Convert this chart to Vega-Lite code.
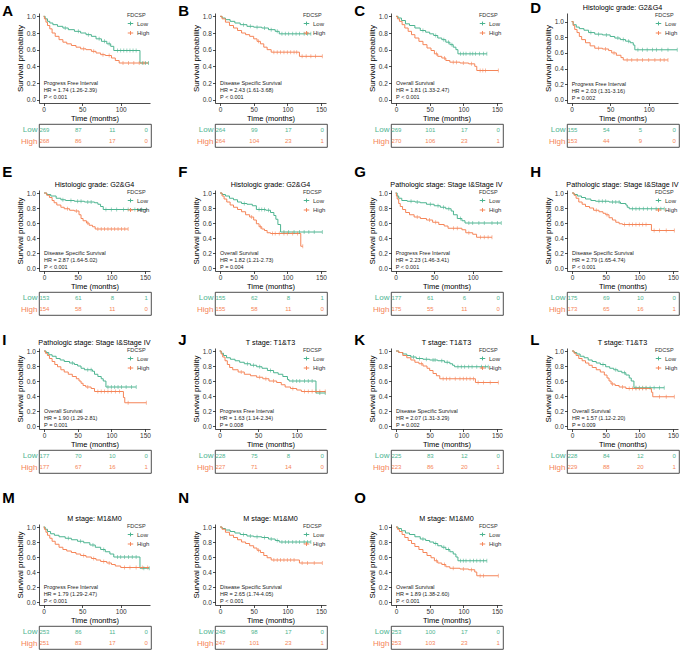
{
"$schema":"https://vega.github.io/schema/vega-lite/v6.json",
"background":"white",
"padding":{"left":2,"top":0,"right":0,"bottom":0},
"spacing":16,
"vconcat":[
{"spacing":26,"hconcat":[
{"title":{"text":"A","anchor":"start","frame":"bounds","fontSize":15,"fontWeight":"bold","dx":-14,"offset":-6},"spacing":0,"resolve":{"scale":{"color":"independent"},"legend":{"color":"independent"}},"vconcat":[
{"width":111,"height":90,"layer":[
{"data":{"name":"km"},"transform":[{"filter":"datum.p=='A'"}],"mark":"line","encoding":{"x":{"field":"t","type":"quantitative","scale":{"domain":[-6,138],"nice":false,"zero":false},"axis":{"values":[0,50,100],"tickCount":10,"title":"Time (months)","labelOverlap":false,"labelFlush":false}},"y":{"field":"s","type":"quantitative","scale":{"domain":[-0.04,1.04],"nice":false,"zero":false},"axis":{"values":[0,0.2,0.4,0.6,0.8,1],"tickCount":10,"format":".1f","title":"Survival probability","labelOverlap":false,"labelFlush":false}},"color":{"field":"g","type":"nominal","scale":{"domain":["Low","High"],"range":["#4DB490","#F58558"]},"legend":{"title":"FDCSP","symbolType":"M-1,0H1M0,-0.7V0.7"}}}},
{"data":{"name":"cen"},"transform":[{"filter":"datum.p=='A'"}],"mark":{"type":"tick","orient":"vertical","size":4,"thickness":0.8},"encoding":{"x":{"field":"t","type":"quantitative"},"y":{"field":"s","type":"quantitative"},"color":{"condition":{"test":"datum.g=='Low'","value":"#4DB490"},"value":"#F58558"}}},
{"data":{"name":"ann"},"transform":[{"filter":"datum.p=='A'"}],"mark":"text","encoding":{"x":{"datum":0},"y":{"datum":0.2},"text":{"field":"lines"}}}
]},
{"width":112,"height":23,"view":{"stroke":"#222","strokeWidth":0.8},"data":{"name":"risk"},"transform":[{"filter":"datum.p=='A'"}],"mark":{"type":"text","align":"center","fontSize":6},"encoding":{"x":{"field":"t","type":"quantitative","scale":{"domain":[-8,157],"nice":false,"zero":false},"axis":null},"y":{"field":"g","type":"nominal","sort":["Low","High"],"axis":{"title":null,"domain":false,"ticks":false,"labelFontSize":8,"labelPadding":2,"labelColor":{"condition":{"test":"datum.value=='Low'","value":"#4DB490"},"value":"#F58558"}}},"text":{"field":"n","type":"quantitative"},"color":{"condition":{"test":"datum.g=='Low'","value":"#4DB490"},"value":"#F58558"}}}
]},
{"title":{"text":"B","anchor":"start","frame":"bounds","fontSize":15,"fontWeight":"bold","dx":-14,"offset":-6},"spacing":0,"resolve":{"scale":{"color":"independent"},"legend":{"color":"independent"}},"vconcat":[
{"width":111,"height":90,"layer":[
{"data":{"name":"km"},"transform":[{"filter":"datum.p=='B'"}],"mark":"line","encoding":{"x":{"field":"t","type":"quantitative","scale":{"domain":[-7.5,157.5],"nice":false,"zero":false},"axis":{"values":[0,50,100,150],"tickCount":10,"title":"Time (months)","labelOverlap":false,"labelFlush":false}},"y":{"field":"s","type":"quantitative","scale":{"domain":[-0.04,1.04],"nice":false,"zero":false},"axis":{"values":[0,0.2,0.4,0.6,0.8,1],"tickCount":10,"format":".1f","title":"Survival probability","labelOverlap":false,"labelFlush":false}},"color":{"field":"g","type":"nominal","scale":{"domain":["Low","High"],"range":["#4DB490","#F58558"]},"legend":{"title":"FDCSP","symbolType":"M-1,0H1M0,-0.7V0.7"}}}},
{"data":{"name":"cen"},"transform":[{"filter":"datum.p=='B'"}],"mark":{"type":"tick","orient":"vertical","size":4,"thickness":0.8},"encoding":{"x":{"field":"t","type":"quantitative"},"y":{"field":"s","type":"quantitative"},"color":{"condition":{"test":"datum.g=='Low'","value":"#4DB490"},"value":"#F58558"}}},
{"data":{"name":"ann"},"transform":[{"filter":"datum.p=='B'"}],"mark":"text","encoding":{"x":{"datum":0},"y":{"datum":0.2},"text":{"field":"lines"}}}
]},
{"width":112,"height":23,"view":{"stroke":"#222","strokeWidth":0.8},"data":{"name":"risk"},"transform":[{"filter":"datum.p=='B'"}],"mark":{"type":"text","align":"center","fontSize":6},"encoding":{"x":{"field":"t","type":"quantitative","scale":{"domain":[-8,157],"nice":false,"zero":false},"axis":null},"y":{"field":"g","type":"nominal","sort":["Low","High"],"axis":{"title":null,"domain":false,"ticks":false,"labelFontSize":8,"labelPadding":2,"labelColor":{"condition":{"test":"datum.value=='Low'","value":"#4DB490"},"value":"#F58558"}}},"text":{"field":"n","type":"quantitative"},"color":{"condition":{"test":"datum.g=='Low'","value":"#4DB490"},"value":"#F58558"}}}
]},
{"title":{"text":"C","anchor":"start","frame":"bounds","fontSize":15,"fontWeight":"bold","dx":-14,"offset":-6},"spacing":0,"resolve":{"scale":{"color":"independent"},"legend":{"color":"independent"}},"vconcat":[
{"width":111,"height":90,"layer":[
{"data":{"name":"km"},"transform":[{"filter":"datum.p=='C'"}],"mark":"line","encoding":{"x":{"field":"t","type":"quantitative","scale":{"domain":[-7.5,157.5],"nice":false,"zero":false},"axis":{"values":[0,50,100,150],"tickCount":10,"title":"Time (months)","labelOverlap":false,"labelFlush":false}},"y":{"field":"s","type":"quantitative","scale":{"domain":[-0.04,1.04],"nice":false,"zero":false},"axis":{"values":[0,0.2,0.4,0.6,0.8,1],"tickCount":10,"format":".1f","title":"Survival probability","labelOverlap":false,"labelFlush":false}},"color":{"field":"g","type":"nominal","scale":{"domain":["Low","High"],"range":["#4DB490","#F58558"]},"legend":{"title":"FDCSP","symbolType":"M-1,0H1M0,-0.7V0.7"}}}},
{"data":{"name":"cen"},"transform":[{"filter":"datum.p=='C'"}],"mark":{"type":"tick","orient":"vertical","size":4,"thickness":0.8},"encoding":{"x":{"field":"t","type":"quantitative"},"y":{"field":"s","type":"quantitative"},"color":{"condition":{"test":"datum.g=='Low'","value":"#4DB490"},"value":"#F58558"}}},
{"data":{"name":"ann"},"transform":[{"filter":"datum.p=='C'"}],"mark":"text","encoding":{"x":{"datum":0},"y":{"datum":0.2},"text":{"field":"lines"}}}
]},
{"width":112,"height":23,"view":{"stroke":"#222","strokeWidth":0.8},"data":{"name":"risk"},"transform":[{"filter":"datum.p=='C'"}],"mark":{"type":"text","align":"center","fontSize":6},"encoding":{"x":{"field":"t","type":"quantitative","scale":{"domain":[-8,157],"nice":false,"zero":false},"axis":null},"y":{"field":"g","type":"nominal","sort":["Low","High"],"axis":{"title":null,"domain":false,"ticks":false,"labelFontSize":8,"labelPadding":2,"labelColor":{"condition":{"test":"datum.value=='Low'","value":"#4DB490"},"value":"#F58558"}}},"text":{"field":"n","type":"quantitative"},"color":{"condition":{"test":"datum.g=='Low'","value":"#4DB490"},"value":"#F58558"}}}
]},
{"title":{"text":"D","anchor":"start","frame":"bounds","fontSize":15,"fontWeight":"bold","dx":-14,"offset":-12},"spacing":0,"resolve":{"scale":{"color":"independent"},"legend":{"color":"independent"}},"vconcat":[
{"width":111,"height":90,"title":"Histologic grade: G2&G4","layer":[
{"data":{"name":"km"},"transform":[{"filter":"datum.p=='D'"}],"mark":"line","encoding":{"x":{"field":"t","type":"quantitative","scale":{"domain":[-6,138],"nice":false,"zero":false},"axis":{"values":[0,50,100],"tickCount":10,"title":"Time (months)","labelOverlap":false,"labelFlush":false}},"y":{"field":"s","type":"quantitative","scale":{"domain":[-0.04,1.11],"nice":false,"zero":false},"axis":{"values":[0,0.2,0.4,0.6,0.8,1],"tickCount":10,"format":".1f","title":"Survival probability","labelOverlap":false,"labelFlush":false}},"color":{"field":"g","type":"nominal","scale":{"domain":["Low","High"],"range":["#4DB490","#F58558"]},"legend":{"title":"FDCSP","symbolType":"M-1,0H1M0,-0.7V0.7"}}}},
{"data":{"name":"cen"},"transform":[{"filter":"datum.p=='D'"}],"mark":{"type":"tick","orient":"vertical","size":4,"thickness":0.8},"encoding":{"x":{"field":"t","type":"quantitative"},"y":{"field":"s","type":"quantitative"},"color":{"condition":{"test":"datum.g=='Low'","value":"#4DB490"},"value":"#F58558"}}},
{"data":{"name":"ann"},"transform":[{"filter":"datum.p=='D'"}],"mark":"text","encoding":{"x":{"datum":0},"y":{"datum":0.2},"text":{"field":"lines"}}}
]},
{"width":112,"height":23,"view":{"stroke":"#222","strokeWidth":0.8},"data":{"name":"risk"},"transform":[{"filter":"datum.p=='D'"}],"mark":{"type":"text","align":"center","fontSize":6},"encoding":{"x":{"field":"t","type":"quantitative","scale":{"domain":[-8,157],"nice":false,"zero":false},"axis":null},"y":{"field":"g","type":"nominal","sort":["Low","High"],"axis":{"title":null,"domain":false,"ticks":false,"labelFontSize":8,"labelPadding":2,"labelColor":{"condition":{"test":"datum.value=='Low'","value":"#4DB490"},"value":"#F58558"}}},"text":{"field":"n","type":"quantitative"},"color":{"condition":{"test":"datum.g=='Low'","value":"#4DB490"},"value":"#F58558"}}}
]}
]},
{"spacing":26,"hconcat":[
{"title":{"text":"E","anchor":"start","frame":"bounds","fontSize":15,"fontWeight":"bold","dx":-14,"offset":1},"spacing":0,"resolve":{"scale":{"color":"independent"},"legend":{"color":"independent"}},"vconcat":[
{"width":111,"height":81,"title":"Histologic grade: G2&G4","layer":[
{"data":{"name":"km"},"transform":[{"filter":"datum.p=='E'"}],"mark":"line","encoding":{"x":{"field":"t","type":"quantitative","scale":{"domain":[-7.5,157.5],"nice":false,"zero":false},"axis":{"values":[0,50,100,150],"tickCount":10,"title":"Time (months)","labelOverlap":false,"labelFlush":false}},"y":{"field":"s","type":"quantitative","scale":{"domain":[-0.04,1.04],"nice":false,"zero":false},"axis":{"values":[0,0.2,0.4,0.6,0.8,1],"tickCount":10,"format":".1f","title":"Survival probability","labelOverlap":false,"labelFlush":false}},"color":{"field":"g","type":"nominal","scale":{"domain":["Low","High"],"range":["#4DB490","#F58558"]},"legend":{"title":"FDCSP","symbolType":"M-1,0H1M0,-0.7V0.7"}}}},
{"data":{"name":"cen"},"transform":[{"filter":"datum.p=='E'"}],"mark":{"type":"tick","orient":"vertical","size":4,"thickness":0.8},"encoding":{"x":{"field":"t","type":"quantitative"},"y":{"field":"s","type":"quantitative"},"color":{"condition":{"test":"datum.g=='Low'","value":"#4DB490"},"value":"#F58558"}}},
{"data":{"name":"ann"},"transform":[{"filter":"datum.p=='E'"}],"mark":"text","encoding":{"x":{"datum":0},"y":{"datum":0.2},"text":{"field":"lines"}}}
]},
{"width":112,"height":23,"view":{"stroke":"#222","strokeWidth":0.8},"data":{"name":"risk"},"transform":[{"filter":"datum.p=='E'"}],"mark":{"type":"text","align":"center","fontSize":6},"encoding":{"x":{"field":"t","type":"quantitative","scale":{"domain":[-8,157],"nice":false,"zero":false},"axis":null},"y":{"field":"g","type":"nominal","sort":["Low","High"],"axis":{"title":null,"domain":false,"ticks":false,"labelFontSize":8,"labelPadding":2,"labelColor":{"condition":{"test":"datum.value=='Low'","value":"#4DB490"},"value":"#F58558"}}},"text":{"field":"n","type":"quantitative"},"color":{"condition":{"test":"datum.g=='Low'","value":"#4DB490"},"value":"#F58558"}}}
]},
{"title":{"text":"F","anchor":"start","frame":"bounds","fontSize":15,"fontWeight":"bold","dx":-14,"offset":1},"spacing":0,"resolve":{"scale":{"color":"independent"},"legend":{"color":"independent"}},"vconcat":[
{"width":111,"height":81,"title":"Histologic grade: G2&G4","layer":[
{"data":{"name":"km"},"transform":[{"filter":"datum.p=='F'"}],"mark":"line","encoding":{"x":{"field":"t","type":"quantitative","scale":{"domain":[-7.5,157.5],"nice":false,"zero":false},"axis":{"values":[0,50,100,150],"tickCount":10,"title":"Time (months)","labelOverlap":false,"labelFlush":false}},"y":{"field":"s","type":"quantitative","scale":{"domain":[-0.04,1.04],"nice":false,"zero":false},"axis":{"values":[0,0.2,0.4,0.6,0.8,1],"tickCount":10,"format":".1f","title":"Survival probability","labelOverlap":false,"labelFlush":false}},"color":{"field":"g","type":"nominal","scale":{"domain":["Low","High"],"range":["#4DB490","#F58558"]},"legend":{"title":"FDCSP","symbolType":"M-1,0H1M0,-0.7V0.7"}}}},
{"data":{"name":"cen"},"transform":[{"filter":"datum.p=='F'"}],"mark":{"type":"tick","orient":"vertical","size":4,"thickness":0.8},"encoding":{"x":{"field":"t","type":"quantitative"},"y":{"field":"s","type":"quantitative"},"color":{"condition":{"test":"datum.g=='Low'","value":"#4DB490"},"value":"#F58558"}}},
{"data":{"name":"ann"},"transform":[{"filter":"datum.p=='F'"}],"mark":"text","encoding":{"x":{"datum":0},"y":{"datum":0.2},"text":{"field":"lines"}}}
]},
{"width":112,"height":23,"view":{"stroke":"#222","strokeWidth":0.8},"data":{"name":"risk"},"transform":[{"filter":"datum.p=='F'"}],"mark":{"type":"text","align":"center","fontSize":6},"encoding":{"x":{"field":"t","type":"quantitative","scale":{"domain":[-8,157],"nice":false,"zero":false},"axis":null},"y":{"field":"g","type":"nominal","sort":["Low","High"],"axis":{"title":null,"domain":false,"ticks":false,"labelFontSize":8,"labelPadding":2,"labelColor":{"condition":{"test":"datum.value=='Low'","value":"#4DB490"},"value":"#F58558"}}},"text":{"field":"n","type":"quantitative"},"color":{"condition":{"test":"datum.g=='Low'","value":"#4DB490"},"value":"#F58558"}}}
]},
{"title":{"text":"G","anchor":"start","frame":"bounds","fontSize":15,"fontWeight":"bold","dx":-14,"offset":1},"spacing":0,"resolve":{"scale":{"color":"independent"},"legend":{"color":"independent"}},"vconcat":[
{"width":111,"height":81,"title":"Pathologic stage: Stage I&Stage IV","layer":[
{"data":{"name":"km"},"transform":[{"filter":"datum.p=='G'"}],"mark":"line","encoding":{"x":{"field":"t","type":"quantitative","scale":{"domain":[-6,138],"nice":false,"zero":false},"axis":{"values":[0,50,100],"tickCount":10,"title":"Time (months)","labelOverlap":false,"labelFlush":false}},"y":{"field":"s","type":"quantitative","scale":{"domain":[-0.04,1.04],"nice":false,"zero":false},"axis":{"values":[0,0.2,0.4,0.6,0.8,1],"tickCount":10,"format":".1f","title":"Survival probability","labelOverlap":false,"labelFlush":false}},"color":{"field":"g","type":"nominal","scale":{"domain":["Low","High"],"range":["#4DB490","#F58558"]},"legend":{"title":"FDCSP","symbolType":"M-1,0H1M0,-0.7V0.7"}}}},
{"data":{"name":"cen"},"transform":[{"filter":"datum.p=='G'"}],"mark":{"type":"tick","orient":"vertical","size":4,"thickness":0.8},"encoding":{"x":{"field":"t","type":"quantitative"},"y":{"field":"s","type":"quantitative"},"color":{"condition":{"test":"datum.g=='Low'","value":"#4DB490"},"value":"#F58558"}}},
{"data":{"name":"ann"},"transform":[{"filter":"datum.p=='G'"}],"mark":"text","encoding":{"x":{"datum":0},"y":{"datum":0.2},"text":{"field":"lines"}}}
]},
{"width":112,"height":23,"view":{"stroke":"#222","strokeWidth":0.8},"data":{"name":"risk"},"transform":[{"filter":"datum.p=='G'"}],"mark":{"type":"text","align":"center","fontSize":6},"encoding":{"x":{"field":"t","type":"quantitative","scale":{"domain":[-8,157],"nice":false,"zero":false},"axis":null},"y":{"field":"g","type":"nominal","sort":["Low","High"],"axis":{"title":null,"domain":false,"ticks":false,"labelFontSize":8,"labelPadding":2,"labelColor":{"condition":{"test":"datum.value=='Low'","value":"#4DB490"},"value":"#F58558"}}},"text":{"field":"n","type":"quantitative"},"color":{"condition":{"test":"datum.g=='Low'","value":"#4DB490"},"value":"#F58558"}}}
]},
{"title":{"text":"H","anchor":"start","frame":"bounds","fontSize":15,"fontWeight":"bold","dx":-14,"offset":1},"spacing":0,"resolve":{"scale":{"color":"independent"},"legend":{"color":"independent"}},"vconcat":[
{"width":111,"height":81,"title":"Pathologic stage: Stage I&Stage IV","layer":[
{"data":{"name":"km"},"transform":[{"filter":"datum.p=='H'"}],"mark":"line","encoding":{"x":{"field":"t","type":"quantitative","scale":{"domain":[-7.5,157.5],"nice":false,"zero":false},"axis":{"values":[0,50,100,150],"tickCount":10,"title":"Time (months)","labelOverlap":false,"labelFlush":false}},"y":{"field":"s","type":"quantitative","scale":{"domain":[-0.04,1.04],"nice":false,"zero":false},"axis":{"values":[0,0.2,0.4,0.6,0.8,1],"tickCount":10,"format":".1f","title":"Survival probability","labelOverlap":false,"labelFlush":false}},"color":{"field":"g","type":"nominal","scale":{"domain":["Low","High"],"range":["#4DB490","#F58558"]},"legend":{"title":"FDCSP","symbolType":"M-1,0H1M0,-0.7V0.7"}}}},
{"data":{"name":"cen"},"transform":[{"filter":"datum.p=='H'"}],"mark":{"type":"tick","orient":"vertical","size":4,"thickness":0.8},"encoding":{"x":{"field":"t","type":"quantitative"},"y":{"field":"s","type":"quantitative"},"color":{"condition":{"test":"datum.g=='Low'","value":"#4DB490"},"value":"#F58558"}}},
{"data":{"name":"ann"},"transform":[{"filter":"datum.p=='H'"}],"mark":"text","encoding":{"x":{"datum":0},"y":{"datum":0.2},"text":{"field":"lines"}}}
]},
{"width":112,"height":23,"view":{"stroke":"#222","strokeWidth":0.8},"data":{"name":"risk"},"transform":[{"filter":"datum.p=='H'"}],"mark":{"type":"text","align":"center","fontSize":6},"encoding":{"x":{"field":"t","type":"quantitative","scale":{"domain":[-8,157],"nice":false,"zero":false},"axis":null},"y":{"field":"g","type":"nominal","sort":["Low","High"],"axis":{"title":null,"domain":false,"ticks":false,"labelFontSize":8,"labelPadding":2,"labelColor":{"condition":{"test":"datum.value=='Low'","value":"#4DB490"},"value":"#F58558"}}},"text":{"field":"n","type":"quantitative"},"color":{"condition":{"test":"datum.g=='Low'","value":"#4DB490"},"value":"#F58558"}}}
]}
]},
{"spacing":26,"hconcat":[
{"title":{"text":"I","anchor":"start","frame":"bounds","fontSize":15,"fontWeight":"bold","dx":-14,"offset":-9},"spacing":0,"resolve":{"scale":{"color":"independent"},"legend":{"color":"independent"}},"vconcat":[
{"width":111,"height":81,"title":"Pathologic stage: Stage I&Stage IV","layer":[
{"data":{"name":"km"},"transform":[{"filter":"datum.p=='I'"}],"mark":"line","encoding":{"x":{"field":"t","type":"quantitative","scale":{"domain":[-7.5,157.5],"nice":false,"zero":false},"axis":{"values":[0,50,100,150],"tickCount":10,"title":"Time (months)","labelOverlap":false,"labelFlush":false}},"y":{"field":"s","type":"quantitative","scale":{"domain":[-0.04,1.04],"nice":false,"zero":false},"axis":{"values":[0,0.2,0.4,0.6,0.8,1],"tickCount":10,"format":".1f","title":"Survival probability","labelOverlap":false,"labelFlush":false}},"color":{"field":"g","type":"nominal","scale":{"domain":["Low","High"],"range":["#4DB490","#F58558"]},"legend":{"title":"FDCSP","symbolType":"M-1,0H1M0,-0.7V0.7"}}}},
{"data":{"name":"cen"},"transform":[{"filter":"datum.p=='I'"}],"mark":{"type":"tick","orient":"vertical","size":4,"thickness":0.8},"encoding":{"x":{"field":"t","type":"quantitative"},"y":{"field":"s","type":"quantitative"},"color":{"condition":{"test":"datum.g=='Low'","value":"#4DB490"},"value":"#F58558"}}},
{"data":{"name":"ann"},"transform":[{"filter":"datum.p=='I'"}],"mark":"text","encoding":{"x":{"datum":0},"y":{"datum":0.2},"text":{"field":"lines"}}}
]},
{"width":112,"height":23,"view":{"stroke":"#222","strokeWidth":0.8},"data":{"name":"risk"},"transform":[{"filter":"datum.p=='I'"}],"mark":{"type":"text","align":"center","fontSize":6},"encoding":{"x":{"field":"t","type":"quantitative","scale":{"domain":[-8,157],"nice":false,"zero":false},"axis":null},"y":{"field":"g","type":"nominal","sort":["Low","High"],"axis":{"title":null,"domain":false,"ticks":false,"labelFontSize":8,"labelPadding":2,"labelColor":{"condition":{"test":"datum.value=='Low'","value":"#4DB490"},"value":"#F58558"}}},"text":{"field":"n","type":"quantitative"},"color":{"condition":{"test":"datum.g=='Low'","value":"#4DB490"},"value":"#F58558"}}}
]},
{"title":{"text":"J","anchor":"start","frame":"bounds","fontSize":15,"fontWeight":"bold","dx":-14,"offset":-9},"spacing":0,"resolve":{"scale":{"color":"independent"},"legend":{"color":"independent"}},"vconcat":[
{"width":111,"height":81,"title":"T stage: T1&T3","layer":[
{"data":{"name":"km"},"transform":[{"filter":"datum.p=='J'"}],"mark":"line","encoding":{"x":{"field":"t","type":"quantitative","scale":{"domain":[-6,138],"nice":false,"zero":false},"axis":{"values":[0,50,100],"tickCount":10,"title":"Time (months)","labelOverlap":false,"labelFlush":false}},"y":{"field":"s","type":"quantitative","scale":{"domain":[-0.04,1.04],"nice":false,"zero":false},"axis":{"values":[0,0.2,0.4,0.6,0.8,1],"tickCount":10,"format":".1f","title":"Survival probability","labelOverlap":false,"labelFlush":false}},"color":{"field":"g","type":"nominal","scale":{"domain":["Low","High"],"range":["#4DB490","#F58558"]},"legend":{"title":"FDCSP","symbolType":"M-1,0H1M0,-0.7V0.7"}}}},
{"data":{"name":"cen"},"transform":[{"filter":"datum.p=='J'"}],"mark":{"type":"tick","orient":"vertical","size":4,"thickness":0.8},"encoding":{"x":{"field":"t","type":"quantitative"},"y":{"field":"s","type":"quantitative"},"color":{"condition":{"test":"datum.g=='Low'","value":"#4DB490"},"value":"#F58558"}}},
{"data":{"name":"ann"},"transform":[{"filter":"datum.p=='J'"}],"mark":"text","encoding":{"x":{"datum":0},"y":{"datum":0.2},"text":{"field":"lines"}}}
]},
{"width":112,"height":23,"view":{"stroke":"#222","strokeWidth":0.8},"data":{"name":"risk"},"transform":[{"filter":"datum.p=='J'"}],"mark":{"type":"text","align":"center","fontSize":6},"encoding":{"x":{"field":"t","type":"quantitative","scale":{"domain":[-8,157],"nice":false,"zero":false},"axis":null},"y":{"field":"g","type":"nominal","sort":["Low","High"],"axis":{"title":null,"domain":false,"ticks":false,"labelFontSize":8,"labelPadding":2,"labelColor":{"condition":{"test":"datum.value=='Low'","value":"#4DB490"},"value":"#F58558"}}},"text":{"field":"n","type":"quantitative"},"color":{"condition":{"test":"datum.g=='Low'","value":"#4DB490"},"value":"#F58558"}}}
]},
{"title":{"text":"K","anchor":"start","frame":"bounds","fontSize":15,"fontWeight":"bold","dx":-14,"offset":-9},"spacing":0,"resolve":{"scale":{"color":"independent"},"legend":{"color":"independent"}},"vconcat":[
{"width":111,"height":81,"title":"T stage: T1&T3","layer":[
{"data":{"name":"km"},"transform":[{"filter":"datum.p=='K'"}],"mark":"line","encoding":{"x":{"field":"t","type":"quantitative","scale":{"domain":[-7.5,157.5],"nice":false,"zero":false},"axis":{"values":[0,50,100,150],"tickCount":10,"title":"Time (months)","labelOverlap":false,"labelFlush":false}},"y":{"field":"s","type":"quantitative","scale":{"domain":[-0.04,1.04],"nice":false,"zero":false},"axis":{"values":[0,0.2,0.4,0.6,0.8,1],"tickCount":10,"format":".1f","title":"Survival probability","labelOverlap":false,"labelFlush":false}},"color":{"field":"g","type":"nominal","scale":{"domain":["Low","High"],"range":["#4DB490","#F58558"]},"legend":{"title":"FDCSP","symbolType":"M-1,0H1M0,-0.7V0.7"}}}},
{"data":{"name":"cen"},"transform":[{"filter":"datum.p=='K'"}],"mark":{"type":"tick","orient":"vertical","size":4,"thickness":0.8},"encoding":{"x":{"field":"t","type":"quantitative"},"y":{"field":"s","type":"quantitative"},"color":{"condition":{"test":"datum.g=='Low'","value":"#4DB490"},"value":"#F58558"}}},
{"data":{"name":"ann"},"transform":[{"filter":"datum.p=='K'"}],"mark":"text","encoding":{"x":{"datum":0},"y":{"datum":0.2},"text":{"field":"lines"}}}
]},
{"width":112,"height":23,"view":{"stroke":"#222","strokeWidth":0.8},"data":{"name":"risk"},"transform":[{"filter":"datum.p=='K'"}],"mark":{"type":"text","align":"center","fontSize":6},"encoding":{"x":{"field":"t","type":"quantitative","scale":{"domain":[-8,157],"nice":false,"zero":false},"axis":null},"y":{"field":"g","type":"nominal","sort":["Low","High"],"axis":{"title":null,"domain":false,"ticks":false,"labelFontSize":8,"labelPadding":2,"labelColor":{"condition":{"test":"datum.value=='Low'","value":"#4DB490"},"value":"#F58558"}}},"text":{"field":"n","type":"quantitative"},"color":{"condition":{"test":"datum.g=='Low'","value":"#4DB490"},"value":"#F58558"}}}
]},
{"title":{"text":"L","anchor":"start","frame":"bounds","fontSize":15,"fontWeight":"bold","dx":-14,"offset":-9},"spacing":0,"resolve":{"scale":{"color":"independent"},"legend":{"color":"independent"}},"vconcat":[
{"width":111,"height":81,"title":"T stage: T1&T3","layer":[
{"data":{"name":"km"},"transform":[{"filter":"datum.p=='L'"}],"mark":"line","encoding":{"x":{"field":"t","type":"quantitative","scale":{"domain":[-7.5,157.5],"nice":false,"zero":false},"axis":{"values":[0,50,100,150],"tickCount":10,"title":"Time (months)","labelOverlap":false,"labelFlush":false}},"y":{"field":"s","type":"quantitative","scale":{"domain":[-0.04,1.04],"nice":false,"zero":false},"axis":{"values":[0,0.2,0.4,0.6,0.8,1],"tickCount":10,"format":".1f","title":"Survival probability","labelOverlap":false,"labelFlush":false}},"color":{"field":"g","type":"nominal","scale":{"domain":["Low","High"],"range":["#4DB490","#F58558"]},"legend":{"title":"FDCSP","symbolType":"M-1,0H1M0,-0.7V0.7"}}}},
{"data":{"name":"cen"},"transform":[{"filter":"datum.p=='L'"}],"mark":{"type":"tick","orient":"vertical","size":4,"thickness":0.8},"encoding":{"x":{"field":"t","type":"quantitative"},"y":{"field":"s","type":"quantitative"},"color":{"condition":{"test":"datum.g=='Low'","value":"#4DB490"},"value":"#F58558"}}},
{"data":{"name":"ann"},"transform":[{"filter":"datum.p=='L'"}],"mark":"text","encoding":{"x":{"datum":0},"y":{"datum":0.2},"text":{"field":"lines"}}}
]},
{"width":112,"height":23,"view":{"stroke":"#222","strokeWidth":0.8},"data":{"name":"risk"},"transform":[{"filter":"datum.p=='L'"}],"mark":{"type":"text","align":"center","fontSize":6},"encoding":{"x":{"field":"t","type":"quantitative","scale":{"domain":[-8,157],"nice":false,"zero":false},"axis":null},"y":{"field":"g","type":"nominal","sort":["Low","High"],"axis":{"title":null,"domain":false,"ticks":false,"labelFontSize":8,"labelPadding":2,"labelColor":{"condition":{"test":"datum.value=='Low'","value":"#4DB490"},"value":"#F58558"}}},"text":{"field":"n","type":"quantitative"},"color":{"condition":{"test":"datum.g=='Low'","value":"#4DB490"},"value":"#F58558"}}}
]}
]},
{"spacing":26,"hconcat":[
{"title":{"text":"M","anchor":"start","frame":"bounds","fontSize":15,"fontWeight":"bold","dx":-14,"offset":9},"spacing":0,"resolve":{"scale":{"color":"independent"},"legend":{"color":"independent"}},"vconcat":[
{"width":111,"height":81,"title":"M stage: M1&M0","layer":[
{"data":{"name":"km"},"transform":[{"filter":"datum.p=='M'"}],"mark":"line","encoding":{"x":{"field":"t","type":"quantitative","scale":{"domain":[-6,138],"nice":false,"zero":false},"axis":{"values":[0,50,100],"tickCount":10,"title":"Time (months)","labelOverlap":false,"labelFlush":false}},"y":{"field":"s","type":"quantitative","scale":{"domain":[-0.04,1.04],"nice":false,"zero":false},"axis":{"values":[0,0.2,0.4,0.6,0.8,1],"tickCount":10,"format":".1f","title":"Survival probability","labelOverlap":false,"labelFlush":false}},"color":{"field":"g","type":"nominal","scale":{"domain":["Low","High"],"range":["#4DB490","#F58558"]},"legend":{"title":"FDCSP","symbolType":"M-1,0H1M0,-0.7V0.7"}}}},
{"data":{"name":"cen"},"transform":[{"filter":"datum.p=='M'"}],"mark":{"type":"tick","orient":"vertical","size":4,"thickness":0.8},"encoding":{"x":{"field":"t","type":"quantitative"},"y":{"field":"s","type":"quantitative"},"color":{"condition":{"test":"datum.g=='Low'","value":"#4DB490"},"value":"#F58558"}}},
{"data":{"name":"ann"},"transform":[{"filter":"datum.p=='M'"}],"mark":"text","encoding":{"x":{"datum":0},"y":{"datum":0.2},"text":{"field":"lines"}}}
]},
{"width":112,"height":23,"view":{"stroke":"#222","strokeWidth":0.8},"data":{"name":"risk"},"transform":[{"filter":"datum.p=='M'"}],"mark":{"type":"text","align":"center","fontSize":6},"encoding":{"x":{"field":"t","type":"quantitative","scale":{"domain":[-8,157],"nice":false,"zero":false},"axis":null},"y":{"field":"g","type":"nominal","sort":["Low","High"],"axis":{"title":null,"domain":false,"ticks":false,"labelFontSize":8,"labelPadding":2,"labelColor":{"condition":{"test":"datum.value=='Low'","value":"#4DB490"},"value":"#F58558"}}},"text":{"field":"n","type":"quantitative"},"color":{"condition":{"test":"datum.g=='Low'","value":"#4DB490"},"value":"#F58558"}}}
]},
{"title":{"text":"N","anchor":"start","frame":"bounds","fontSize":15,"fontWeight":"bold","dx":-14,"offset":9},"spacing":0,"resolve":{"scale":{"color":"independent"},"legend":{"color":"independent"}},"vconcat":[
{"width":111,"height":81,"title":"M stage: M1&M0","layer":[
{"data":{"name":"km"},"transform":[{"filter":"datum.p=='N'"}],"mark":"line","encoding":{"x":{"field":"t","type":"quantitative","scale":{"domain":[-7.5,157.5],"nice":false,"zero":false},"axis":{"values":[0,50,100,150],"tickCount":10,"title":"Time (months)","labelOverlap":false,"labelFlush":false}},"y":{"field":"s","type":"quantitative","scale":{"domain":[-0.04,1.04],"nice":false,"zero":false},"axis":{"values":[0,0.2,0.4,0.6,0.8,1],"tickCount":10,"format":".1f","title":"Survival probability","labelOverlap":false,"labelFlush":false}},"color":{"field":"g","type":"nominal","scale":{"domain":["Low","High"],"range":["#4DB490","#F58558"]},"legend":{"title":"FDCSP","symbolType":"M-1,0H1M0,-0.7V0.7"}}}},
{"data":{"name":"cen"},"transform":[{"filter":"datum.p=='N'"}],"mark":{"type":"tick","orient":"vertical","size":4,"thickness":0.8},"encoding":{"x":{"field":"t","type":"quantitative"},"y":{"field":"s","type":"quantitative"},"color":{"condition":{"test":"datum.g=='Low'","value":"#4DB490"},"value":"#F58558"}}},
{"data":{"name":"ann"},"transform":[{"filter":"datum.p=='N'"}],"mark":"text","encoding":{"x":{"datum":0},"y":{"datum":0.2},"text":{"field":"lines"}}}
]},
{"width":112,"height":23,"view":{"stroke":"#222","strokeWidth":0.8},"data":{"name":"risk"},"transform":[{"filter":"datum.p=='N'"}],"mark":{"type":"text","align":"center","fontSize":6},"encoding":{"x":{"field":"t","type":"quantitative","scale":{"domain":[-8,157],"nice":false,"zero":false},"axis":null},"y":{"field":"g","type":"nominal","sort":["Low","High"],"axis":{"title":null,"domain":false,"ticks":false,"labelFontSize":8,"labelPadding":2,"labelColor":{"condition":{"test":"datum.value=='Low'","value":"#4DB490"},"value":"#F58558"}}},"text":{"field":"n","type":"quantitative"},"color":{"condition":{"test":"datum.g=='Low'","value":"#4DB490"},"value":"#F58558"}}}
]},
{"title":{"text":"O","anchor":"start","frame":"bounds","fontSize":15,"fontWeight":"bold","dx":-14,"offset":9},"spacing":0,"resolve":{"scale":{"color":"independent"},"legend":{"color":"independent"}},"vconcat":[
{"width":111,"height":81,"title":"M stage: M1&M0","layer":[
{"data":{"name":"km"},"transform":[{"filter":"datum.p=='O'"}],"mark":"line","encoding":{"x":{"field":"t","type":"quantitative","scale":{"domain":[-7.5,157.5],"nice":false,"zero":false},"axis":{"values":[0,50,100,150],"tickCount":10,"title":"Time (months)","labelOverlap":false,"labelFlush":false}},"y":{"field":"s","type":"quantitative","scale":{"domain":[-0.04,1.04],"nice":false,"zero":false},"axis":{"values":[0,0.2,0.4,0.6,0.8,1],"tickCount":10,"format":".1f","title":"Survival probability","labelOverlap":false,"labelFlush":false}},"color":{"field":"g","type":"nominal","scale":{"domain":["Low","High"],"range":["#4DB490","#F58558"]},"legend":{"title":"FDCSP","symbolType":"M-1,0H1M0,-0.7V0.7"}}}},
{"data":{"name":"cen"},"transform":[{"filter":"datum.p=='O'"}],"mark":{"type":"tick","orient":"vertical","size":4,"thickness":0.8},"encoding":{"x":{"field":"t","type":"quantitative"},"y":{"field":"s","type":"quantitative"},"color":{"condition":{"test":"datum.g=='Low'","value":"#4DB490"},"value":"#F58558"}}},
{"data":{"name":"ann"},"transform":[{"filter":"datum.p=='O'"}],"mark":"text","encoding":{"x":{"datum":0},"y":{"datum":0.2},"text":{"field":"lines"}}}
]},
{"width":112,"height":23,"view":{"stroke":"#222","strokeWidth":0.8},"data":{"name":"risk"},"transform":[{"filter":"datum.p=='O'"}],"mark":{"type":"text","align":"center","fontSize":6},"encoding":{"x":{"field":"t","type":"quantitative","scale":{"domain":[-8,157],"nice":false,"zero":false},"axis":null},"y":{"field":"g","type":"nominal","sort":["Low","High"],"axis":{"title":null,"domain":false,"ticks":false,"labelFontSize":8,"labelPadding":2,"labelColor":{"condition":{"test":"datum.value=='Low'","value":"#4DB490"},"value":"#F58558"}}},"text":{"field":"n","type":"quantitative"},"color":{"condition":{"test":"datum.g=='Low'","value":"#4DB490"},"value":"#F58558"}}}
]}
]}
],
"datasets":{
"ann":[
{"p":"A","lines":["Progress Free Interval","HR = 1.74 (1.26-2.39)","P < 0.001"]},
{"p":"B","lines":["Disease Specific Survival","HR = 2.43 (1.61-3.68)","P < 0.001"]},
{"p":"C","lines":["Overall Survival","HR = 1.81 (1.33-2.47)","P < 0.001"]},
{"p":"D","lines":["Progress Free Interval","HR = 2.03 (1.31-3.16)","P = 0.002"]},
{"p":"E","lines":["Disease Specific Survival","HR = 2.87 (1.64-5.02)","P < 0.001"]},
{"p":"F","lines":["Overall Survival","HR = 1.82 (1.21-2.73)","P = 0.004"]},
{"p":"G","lines":["Progress Free Interval","HR = 2.23 (1.46-3.41)","P < 0.001"]},
{"p":"H","lines":["Disease Specific Survival","HR = 2.79 (1.65-4.74)","P < 0.001"]},
{"p":"I","lines":["Overall Survival","HR = 1.90 (1.29-2.81)","P = 0.001"]},
{"p":"J","lines":["Progress Free Interval","HR = 1.63 (1.14-2.34)","P = 0.008"]},
{"p":"K","lines":["Disease Specific Survival","HR = 2.07 (1.31-3.29)","P = 0.002"]},
{"p":"L","lines":["Overall Survival","HR = 1.57 (1.12-2.20)","P = 0.009"]},
{"p":"M","lines":["Progress Free Interval","HR = 1.79 (1.29-2.47)","P < 0.001"]},
{"p":"N","lines":["Disease Specific Survival","HR = 2.65 (1.74-4.05)","P < 0.001"]},
{"p":"O","lines":["Overall Survival","HR = 1.89 (1.38-2.60)","P < 0.001"]}
],
"risk":[
{"p":"A","g":"Low","t":0,"n":269},{"p":"A","g":"Low","t":50,"n":87},{"p":"A","g":"Low","t":100,"n":11},{"p":"A","g":"Low","t":150,"n":0},
{"p":"A","g":"High","t":0,"n":268},{"p":"A","g":"High","t":50,"n":86},{"p":"A","g":"High","t":100,"n":17},{"p":"A","g":"High","t":150,"n":0},
{"p":"B","g":"Low","t":0,"n":264},{"p":"B","g":"Low","t":50,"n":99},{"p":"B","g":"Low","t":100,"n":17},{"p":"B","g":"Low","t":150,"n":0},
{"p":"B","g":"High","t":0,"n":264},{"p":"B","g":"High","t":50,"n":104},{"p":"B","g":"High","t":100,"n":23},{"p":"B","g":"High","t":150,"n":1},
{"p":"C","g":"Low","t":0,"n":269},{"p":"C","g":"Low","t":50,"n":101},{"p":"C","g":"Low","t":100,"n":17},{"p":"C","g":"Low","t":150,"n":0},
{"p":"C","g":"High","t":0,"n":270},{"p":"C","g":"High","t":50,"n":106},{"p":"C","g":"High","t":100,"n":23},{"p":"C","g":"High","t":150,"n":1},
{"p":"D","g":"Low","t":0,"n":155},{"p":"D","g":"Low","t":50,"n":54},{"p":"D","g":"Low","t":100,"n":5},{"p":"D","g":"Low","t":150,"n":0},
{"p":"D","g":"High","t":0,"n":153},{"p":"D","g":"High","t":50,"n":44},{"p":"D","g":"High","t":100,"n":9},{"p":"D","g":"High","t":150,"n":0},
{"p":"E","g":"Low","t":0,"n":153},{"p":"E","g":"Low","t":50,"n":61},{"p":"E","g":"Low","t":100,"n":8},{"p":"E","g":"Low","t":150,"n":1},
{"p":"E","g":"High","t":0,"n":154},{"p":"E","g":"High","t":50,"n":58},{"p":"E","g":"High","t":100,"n":11},{"p":"E","g":"High","t":150,"n":0},
{"p":"F","g":"Low","t":0,"n":155},{"p":"F","g":"Low","t":50,"n":62},{"p":"F","g":"Low","t":100,"n":8},{"p":"F","g":"Low","t":150,"n":1},
{"p":"F","g":"High","t":0,"n":155},{"p":"F","g":"High","t":50,"n":58},{"p":"F","g":"High","t":100,"n":11},{"p":"F","g":"High","t":150,"n":0},
{"p":"G","g":"Low","t":0,"n":177},{"p":"G","g":"Low","t":50,"n":61},{"p":"G","g":"Low","t":100,"n":6},{"p":"G","g":"Low","t":150,"n":0},
{"p":"G","g":"High","t":0,"n":175},{"p":"G","g":"High","t":50,"n":55},{"p":"G","g":"High","t":100,"n":11},{"p":"G","g":"High","t":150,"n":0},
{"p":"H","g":"Low","t":0,"n":175},{"p":"H","g":"Low","t":50,"n":69},{"p":"H","g":"Low","t":100,"n":10},{"p":"H","g":"Low","t":150,"n":0},
{"p":"H","g":"High","t":0,"n":173},{"p":"H","g":"High","t":50,"n":65},{"p":"H","g":"High","t":100,"n":16},{"p":"H","g":"High","t":150,"n":1},
{"p":"I","g":"Low","t":0,"n":177},{"p":"I","g":"Low","t":50,"n":70},{"p":"I","g":"Low","t":100,"n":10},{"p":"I","g":"Low","t":150,"n":0},
{"p":"I","g":"High","t":0,"n":177},{"p":"I","g":"High","t":50,"n":67},{"p":"I","g":"High","t":100,"n":16},{"p":"I","g":"High","t":150,"n":1},
{"p":"J","g":"Low","t":0,"n":228},{"p":"J","g":"Low","t":50,"n":75},{"p":"J","g":"Low","t":100,"n":8},{"p":"J","g":"Low","t":150,"n":0},
{"p":"J","g":"High","t":0,"n":227},{"p":"J","g":"High","t":50,"n":71},{"p":"J","g":"High","t":100,"n":14},{"p":"J","g":"High","t":150,"n":0},
{"p":"K","g":"Low","t":0,"n":225},{"p":"K","g":"Low","t":50,"n":83},{"p":"K","g":"Low","t":100,"n":12},{"p":"K","g":"Low","t":150,"n":0},
{"p":"K","g":"High","t":0,"n":223},{"p":"K","g":"High","t":50,"n":86},{"p":"K","g":"High","t":100,"n":20},{"p":"K","g":"High","t":150,"n":1},
{"p":"L","g":"Low","t":0,"n":228},{"p":"L","g":"Low","t":50,"n":84},{"p":"L","g":"Low","t":100,"n":12},{"p":"L","g":"Low","t":150,"n":0},
{"p":"L","g":"High","t":0,"n":229},{"p":"L","g":"High","t":50,"n":88},{"p":"L","g":"High","t":100,"n":20},{"p":"L","g":"High","t":150,"n":1},
{"p":"M","g":"Low","t":0,"n":253},{"p":"M","g":"Low","t":50,"n":86},{"p":"M","g":"Low","t":100,"n":11},{"p":"M","g":"Low","t":150,"n":0},
{"p":"M","g":"High","t":0,"n":251},{"p":"M","g":"High","t":50,"n":83},{"p":"M","g":"High","t":100,"n":17},{"p":"M","g":"High","t":150,"n":0},
{"p":"N","g":"Low","t":0,"n":248},{"p":"N","g":"Low","t":50,"n":98},{"p":"N","g":"Low","t":100,"n":17},{"p":"N","g":"Low","t":150,"n":0},
{"p":"N","g":"High","t":0,"n":247},{"p":"N","g":"High","t":50,"n":101},{"p":"N","g":"High","t":100,"n":23},{"p":"N","g":"High","t":150,"n":1},
{"p":"O","g":"Low","t":0,"n":253},{"p":"O","g":"Low","t":50,"n":100},{"p":"O","g":"Low","t":100,"n":17},{"p":"O","g":"Low","t":150,"n":0},
{"p":"O","g":"High","t":0,"n":253},{"p":"O","g":"High","t":50,"n":103},{"p":"O","g":"High","t":100,"n":23},{"p":"O","g":"High","t":150,"n":1}
],
"km":[
{"p":"A","g":"Low","t":0,"s":1},{"p":"A","g":"Low","t":2,"s":0.97},{"p":"A","g":"Low","t":5,"s":0.94},{"p":"A","g":"Low","t":8,"s":0.92},{"p":"A","g":"Low","t":12,"s":0.9},{"p":"A","g":"Low","t":18,"s":0.88},{"p":"A","g":"Low","t":25,"s":0.86},{"p":"A","g":"Low","t":32,"s":0.84},{"p":"A","g":"Low","t":40,"s":0.82},{"p":"A","g":"Low","t":48,"s":0.8},{"p":"A","g":"Low","t":55,"s":0.78},{"p":"A","g":"Low","t":62,"s":0.76},{"p":"A","g":"Low","t":68,"s":0.73},{"p":"A","g":"Low","t":75,"s":0.7},{"p":"A","g":"Low","t":82,"s":0.67},{"p":"A","g":"Low","t":87,"s":0.64},{"p":"A","g":"Low","t":91,"s":0.59},{"p":"A","g":"Low","t":125,"s":0.44},{"p":"A","g":"Low","t":136,"s":0.44},
{"p":"A","g":"High","t":0,"s":1},{"p":"A","g":"High","t":1,"s":0.97},{"p":"A","g":"High","t":3,"s":0.93},{"p":"A","g":"High","t":5,"s":0.89},{"p":"A","g":"High","t":8,"s":0.85},{"p":"A","g":"High","t":11,"s":0.8},{"p":"A","g":"High","t":15,"s":0.76},{"p":"A","g":"High","t":20,"s":0.72},{"p":"A","g":"High","t":25,"s":0.69},{"p":"A","g":"High","t":30,"s":0.67},{"p":"A","g":"High","t":36,"s":0.65},{"p":"A","g":"High","t":42,"s":0.63},{"p":"A","g":"High","t":48,"s":0.61},{"p":"A","g":"High","t":55,"s":0.6},{"p":"A","g":"High","t":62,"s":0.58},{"p":"A","g":"High","t":68,"s":0.56},{"p":"A","g":"High","t":74,"s":0.54},{"p":"A","g":"High","t":80,"s":0.53},{"p":"A","g":"High","t":88,"s":0.5},{"p":"A","g":"High","t":93,"s":0.47},{"p":"A","g":"High","t":98,"s":0.44},{"p":"A","g":"High","t":136,"s":0.44},
{"p":"B","g":"Low","t":0,"s":1},{"p":"B","g":"Low","t":3,"s":0.98},{"p":"B","g":"Low","t":8,"s":0.96},{"p":"B","g":"Low","t":15,"s":0.94},{"p":"B","g":"Low","t":22,"s":0.92},{"p":"B","g":"Low","t":30,"s":0.9},{"p":"B","g":"Low","t":40,"s":0.88},{"p":"B","g":"Low","t":50,"s":0.87},{"p":"B","g":"Low","t":62,"s":0.86},{"p":"B","g":"Low","t":72,"s":0.84},{"p":"B","g":"Low","t":82,"s":0.82},{"p":"B","g":"Low","t":88,"s":0.79},{"p":"B","g":"Low","t":135,"s":0.79},
{"p":"B","g":"High","t":0,"s":1},{"p":"B","g":"High","t":3,"s":0.97},{"p":"B","g":"High","t":8,"s":0.93},{"p":"B","g":"High","t":14,"s":0.89},{"p":"B","g":"High","t":20,"s":0.86},{"p":"B","g":"High","t":26,"s":0.83},{"p":"B","g":"High","t":32,"s":0.8},{"p":"B","g":"High","t":38,"s":0.78},{"p":"B","g":"High","t":44,"s":0.76},{"p":"B","g":"High","t":50,"s":0.73},{"p":"B","g":"High","t":55,"s":0.7},{"p":"B","g":"High","t":60,"s":0.67},{"p":"B","g":"High","t":65,"s":0.63},{"p":"B","g":"High","t":70,"s":0.6},{"p":"B","g":"High","t":76,"s":0.57},{"p":"B","g":"High","t":118,"s":0.52},{"p":"B","g":"High","t":152,"s":0.52},
{"p":"C","g":"Low","t":0,"s":1},{"p":"C","g":"Low","t":3,"s":0.98},{"p":"C","g":"Low","t":8,"s":0.95},{"p":"C","g":"Low","t":14,"s":0.91},{"p":"C","g":"Low","t":20,"s":0.89},{"p":"C","g":"Low","t":28,"s":0.86},{"p":"C","g":"Low","t":36,"s":0.83},{"p":"C","g":"Low","t":44,"s":0.81},{"p":"C","g":"Low","t":50,"s":0.79},{"p":"C","g":"Low","t":56,"s":0.77},{"p":"C","g":"Low","t":62,"s":0.74},{"p":"C","g":"Low","t":68,"s":0.72},{"p":"C","g":"Low","t":74,"s":0.69},{"p":"C","g":"Low","t":80,"s":0.66},{"p":"C","g":"Low","t":85,"s":0.63},{"p":"C","g":"Low","t":89,"s":0.6},{"p":"C","g":"Low","t":92,"s":0.55},{"p":"C","g":"Low","t":135,"s":0.55},
{"p":"C","g":"High","t":0,"s":1},{"p":"C","g":"High","t":2,"s":0.97},{"p":"C","g":"High","t":5,"s":0.94},{"p":"C","g":"High","t":9,"s":0.9},{"p":"C","g":"High","t":13,"s":0.86},{"p":"C","g":"High","t":18,"s":0.82},{"p":"C","g":"High","t":23,"s":0.78},{"p":"C","g":"High","t":28,"s":0.74},{"p":"C","g":"High","t":34,"s":0.7},{"p":"C","g":"High","t":40,"s":0.66},{"p":"C","g":"High","t":46,"s":0.62},{"p":"C","g":"High","t":52,"s":0.59},{"p":"C","g":"High","t":57,"s":0.55},{"p":"C","g":"High","t":62,"s":0.52},{"p":"C","g":"High","t":68,"s":0.5},{"p":"C","g":"High","t":74,"s":0.47},{"p":"C","g":"High","t":80,"s":0.45},{"p":"C","g":"High","t":95,"s":0.44},{"p":"C","g":"High","t":108,"s":0.43},{"p":"C","g":"High","t":117,"s":0.4},{"p":"C","g":"High","t":120,"s":0.35},{"p":"C","g":"High","t":152,"s":0.35},
{"p":"D","g":"Low","t":0,"s":1},{"p":"D","g":"Low","t":2,"s":0.96},{"p":"D","g":"Low","t":6,"s":0.93},{"p":"D","g":"Low","t":10,"s":0.91},{"p":"D","g":"Low","t":16,"s":0.89},{"p":"D","g":"Low","t":22,"s":0.86},{"p":"D","g":"Low","t":30,"s":0.84},{"p":"D","g":"Low","t":40,"s":0.83},{"p":"D","g":"Low","t":50,"s":0.81},{"p":"D","g":"Low","t":56,"s":0.79},{"p":"D","g":"Low","t":63,"s":0.77},{"p":"D","g":"Low","t":70,"s":0.75},{"p":"D","g":"Low","t":76,"s":0.73},{"p":"D","g":"Low","t":80,"s":0.7},{"p":"D","g":"Low","t":82,"s":0.64},{"p":"D","g":"Low","t":137,"s":0.64},
{"p":"D","g":"High","t":0,"s":1},{"p":"D","g":"High","t":2,"s":0.95},{"p":"D","g":"High","t":4,"s":0.9},{"p":"D","g":"High","t":7,"s":0.86},{"p":"D","g":"High","t":10,"s":0.81},{"p":"D","g":"High","t":13,"s":0.77},{"p":"D","g":"High","t":18,"s":0.73},{"p":"D","g":"High","t":24,"s":0.69},{"p":"D","g":"High","t":30,"s":0.66},{"p":"D","g":"High","t":40,"s":0.65},{"p":"D","g":"High","t":48,"s":0.63},{"p":"D","g":"High","t":52,"s":0.6},{"p":"D","g":"High","t":58,"s":0.57},{"p":"D","g":"High","t":64,"s":0.54},{"p":"D","g":"High","t":67,"s":0.51},{"p":"D","g":"High","t":125,"s":0.51},
{"p":"E","g":"Low","t":0,"s":1},{"p":"E","g":"Low","t":4,"s":0.98},{"p":"E","g":"Low","t":10,"s":0.96},{"p":"E","g":"Low","t":18,"s":0.93},{"p":"E","g":"Low","t":25,"s":0.91},{"p":"E","g":"Low","t":32,"s":0.9},{"p":"E","g":"Low","t":45,"s":0.89},{"p":"E","g":"Low","t":60,"s":0.88},{"p":"E","g":"Low","t":75,"s":0.87},{"p":"E","g":"Low","t":80,"s":0.85},{"p":"E","g":"Low","t":84,"s":0.82},{"p":"E","g":"Low","t":88,"s":0.78},{"p":"E","g":"Low","t":152,"s":0.78},
{"p":"E","g":"High","t":0,"s":1},{"p":"E","g":"High","t":4,"s":0.97},{"p":"E","g":"High","t":8,"s":0.94},{"p":"E","g":"High","t":12,"s":0.9},{"p":"E","g":"High","t":15,"s":0.87},{"p":"E","g":"High","t":19,"s":0.84},{"p":"E","g":"High","t":25,"s":0.81},{"p":"E","g":"High","t":30,"s":0.79},{"p":"E","g":"High","t":38,"s":0.77},{"p":"E","g":"High","t":45,"s":0.76},{"p":"E","g":"High","t":52,"s":0.71},{"p":"E","g":"High","t":55,"s":0.66},{"p":"E","g":"High","t":58,"s":0.63},{"p":"E","g":"High","t":63,"s":0.6},{"p":"E","g":"High","t":67,"s":0.57},{"p":"E","g":"High","t":72,"s":0.55},{"p":"E","g":"High","t":76,"s":0.52},{"p":"E","g":"High","t":125,"s":0.52},
{"p":"F","g":"Low","t":0,"s":1},{"p":"F","g":"Low","t":3,"s":0.98},{"p":"F","g":"Low","t":8,"s":0.96},{"p":"F","g":"Low","t":14,"s":0.93},{"p":"F","g":"Low","t":20,"s":0.91},{"p":"F","g":"Low","t":26,"s":0.88},{"p":"F","g":"Low","t":32,"s":0.86},{"p":"F","g":"Low","t":40,"s":0.85},{"p":"F","g":"Low","t":48,"s":0.83},{"p":"F","g":"Low","t":54,"s":0.78},{"p":"F","g":"Low","t":68,"s":0.77},{"p":"F","g":"Low","t":75,"s":0.74},{"p":"F","g":"Low","t":80,"s":0.7},{"p":"F","g":"Low","t":83,"s":0.65},{"p":"F","g":"Low","t":86,"s":0.58},{"p":"F","g":"Low","t":90,"s":0.48},{"p":"F","g":"Low","t":152,"s":0.48},
{"p":"F","g":"High","t":0,"s":1},{"p":"F","g":"High","t":3,"s":0.96},{"p":"F","g":"High","t":6,"s":0.92},{"p":"F","g":"High","t":10,"s":0.88},{"p":"F","g":"High","t":15,"s":0.84},{"p":"F","g":"High","t":20,"s":0.81},{"p":"F","g":"High","t":26,"s":0.78},{"p":"F","g":"High","t":32,"s":0.75},{"p":"F","g":"High","t":38,"s":0.71},{"p":"F","g":"High","t":44,"s":0.68},{"p":"F","g":"High","t":50,"s":0.64},{"p":"F","g":"High","t":54,"s":0.59},{"p":"F","g":"High","t":58,"s":0.55},{"p":"F","g":"High","t":62,"s":0.52},{"p":"F","g":"High","t":66,"s":0.5},{"p":"F","g":"High","t":70,"s":0.47},{"p":"F","g":"High","t":75,"s":0.46},{"p":"F","g":"High","t":120,"s":0.29},{"p":"F","g":"High","t":123,"s":0.29},
{"p":"G","g":"Low","t":0,"s":1},{"p":"G","g":"Low","t":2,"s":0.96},{"p":"G","g":"Low","t":4,"s":0.93},{"p":"G","g":"Low","t":8,"s":0.9},{"p":"G","g":"Low","t":15,"s":0.89},{"p":"G","g":"Low","t":25,"s":0.88},{"p":"G","g":"Low","t":32,"s":0.87},{"p":"G","g":"Low","t":40,"s":0.85},{"p":"G","g":"Low","t":50,"s":0.83},{"p":"G","g":"Low","t":58,"s":0.81},{"p":"G","g":"Low","t":65,"s":0.79},{"p":"G","g":"Low","t":72,"s":0.76},{"p":"G","g":"Low","t":75,"s":0.71},{"p":"G","g":"Low","t":80,"s":0.66},{"p":"G","g":"Low","t":86,"s":0.63},{"p":"G","g":"Low","t":90,"s":0.6},{"p":"G","g":"Low","t":137,"s":0.6},
{"p":"G","g":"High","t":0,"s":1},{"p":"G","g":"High","t":1,"s":0.96},{"p":"G","g":"High","t":2,"s":0.92},{"p":"G","g":"High","t":4,"s":0.86},{"p":"G","g":"High","t":6,"s":0.82},{"p":"G","g":"High","t":9,"s":0.78},{"p":"G","g":"High","t":13,"s":0.74},{"p":"G","g":"High","t":18,"s":0.71},{"p":"G","g":"High","t":24,"s":0.68},{"p":"G","g":"High","t":32,"s":0.66},{"p":"G","g":"High","t":40,"s":0.64},{"p":"G","g":"High","t":48,"s":0.61},{"p":"G","g":"High","t":56,"s":0.58},{"p":"G","g":"High","t":63,"s":0.56},{"p":"G","g":"High","t":68,"s":0.53},{"p":"G","g":"High","t":86,"s":0.51},{"p":"G","g":"High","t":91,"s":0.47},{"p":"G","g":"High","t":100,"s":0.45},{"p":"G","g":"High","t":105,"s":0.41},{"p":"G","g":"High","t":125,"s":0.41},
{"p":"H","g":"Low","t":0,"s":1},{"p":"H","g":"Low","t":3,"s":0.98},{"p":"H","g":"Low","t":8,"s":0.96},{"p":"H","g":"Low","t":14,"s":0.94},{"p":"H","g":"Low","t":20,"s":0.92},{"p":"H","g":"Low","t":28,"s":0.9},{"p":"H","g":"Low","t":35,"s":0.89},{"p":"H","g":"Low","t":55,"s":0.88},{"p":"H","g":"Low","t":72,"s":0.86},{"p":"H","g":"Low","t":80,"s":0.84},{"p":"H","g":"Low","t":82,"s":0.81},{"p":"H","g":"Low","t":85,"s":0.79},{"p":"H","g":"Low","t":137,"s":0.79},
{"p":"H","g":"High","t":0,"s":1},{"p":"H","g":"High","t":3,"s":0.97},{"p":"H","g":"High","t":6,"s":0.93},{"p":"H","g":"High","t":10,"s":0.88},{"p":"H","g":"High","t":15,"s":0.85},{"p":"H","g":"High","t":20,"s":0.82},{"p":"H","g":"High","t":26,"s":0.8},{"p":"H","g":"High","t":32,"s":0.77},{"p":"H","g":"High","t":40,"s":0.75},{"p":"H","g":"High","t":46,"s":0.73},{"p":"H","g":"High","t":50,"s":0.71},{"p":"H","g":"High","t":55,"s":0.67},{"p":"H","g":"High","t":60,"s":0.64},{"p":"H","g":"High","t":65,"s":0.61},{"p":"H","g":"High","t":70,"s":0.59},{"p":"H","g":"High","t":75,"s":0.58},{"p":"H","g":"High","t":118,"s":0.5},{"p":"H","g":"High","t":152,"s":0.5},
{"p":"I","g":"Low","t":0,"s":1},{"p":"I","g":"Low","t":3,"s":0.98},{"p":"I","g":"Low","t":7,"s":0.95},{"p":"I","g":"Low","t":12,"s":0.93},{"p":"I","g":"Low","t":18,"s":0.9},{"p":"I","g":"Low","t":24,"s":0.88},{"p":"I","g":"Low","t":30,"s":0.86},{"p":"I","g":"Low","t":38,"s":0.84},{"p":"I","g":"Low","t":45,"s":0.82},{"p":"I","g":"Low","t":50,"s":0.8},{"p":"I","g":"Low","t":55,"s":0.77},{"p":"I","g":"Low","t":60,"s":0.75},{"p":"I","g":"Low","t":72,"s":0.73},{"p":"I","g":"Low","t":75,"s":0.69},{"p":"I","g":"Low","t":80,"s":0.66},{"p":"I","g":"Low","t":85,"s":0.63},{"p":"I","g":"Low","t":88,"s":0.6},{"p":"I","g":"Low","t":92,"s":0.52},{"p":"I","g":"Low","t":137,"s":0.52},
{"p":"I","g":"High","t":0,"s":1},{"p":"I","g":"High","t":2,"s":0.97},{"p":"I","g":"High","t":5,"s":0.94},{"p":"I","g":"High","t":8,"s":0.9},{"p":"I","g":"High","t":12,"s":0.86},{"p":"I","g":"High","t":16,"s":0.82},{"p":"I","g":"High","t":20,"s":0.79},{"p":"I","g":"High","t":25,"s":0.75},{"p":"I","g":"High","t":30,"s":0.72},{"p":"I","g":"High","t":36,"s":0.69},{"p":"I","g":"High","t":42,"s":0.66},{"p":"I","g":"High","t":48,"s":0.63},{"p":"I","g":"High","t":52,"s":0.6},{"p":"I","g":"High","t":55,"s":0.57},{"p":"I","g":"High","t":58,"s":0.54},{"p":"I","g":"High","t":62,"s":0.52},{"p":"I","g":"High","t":70,"s":0.5},{"p":"I","g":"High","t":75,"s":0.46},{"p":"I","g":"High","t":118,"s":0.38},{"p":"I","g":"High","t":120,"s":0.31},{"p":"I","g":"High","t":152,"s":0.31},
{"p":"J","g":"Low","t":0,"s":1},{"p":"J","g":"Low","t":2,"s":0.97},{"p":"J","g":"Low","t":5,"s":0.94},{"p":"J","g":"Low","t":9,"s":0.91},{"p":"J","g":"Low","t":14,"s":0.89},{"p":"J","g":"Low","t":20,"s":0.87},{"p":"J","g":"Low","t":26,"s":0.85},{"p":"J","g":"Low","t":32,"s":0.83},{"p":"J","g":"Low","t":40,"s":0.81},{"p":"J","g":"Low","t":48,"s":0.79},{"p":"J","g":"Low","t":55,"s":0.77},{"p":"J","g":"Low","t":62,"s":0.74},{"p":"J","g":"Low","t":70,"s":0.71},{"p":"J","g":"Low","t":76,"s":0.69},{"p":"J","g":"Low","t":82,"s":0.66},{"p":"J","g":"Low","t":88,"s":0.62},{"p":"J","g":"Low","t":90,"s":0.6},{"p":"J","g":"Low","t":125,"s":0.44},{"p":"J","g":"Low","t":137,"s":0.44},
{"p":"J","g":"High","t":0,"s":1},{"p":"J","g":"High","t":2,"s":0.96},{"p":"J","g":"High","t":4,"s":0.92},{"p":"J","g":"High","t":7,"s":0.87},{"p":"J","g":"High","t":10,"s":0.82},{"p":"J","g":"High","t":13,"s":0.78},{"p":"J","g":"High","t":17,"s":0.75},{"p":"J","g":"High","t":24,"s":0.72},{"p":"J","g":"High","t":32,"s":0.69},{"p":"J","g":"High","t":40,"s":0.67},{"p":"J","g":"High","t":48,"s":0.65},{"p":"J","g":"High","t":56,"s":0.63},{"p":"J","g":"High","t":64,"s":0.6},{"p":"J","g":"High","t":74,"s":0.58},{"p":"J","g":"High","t":80,"s":0.55},{"p":"J","g":"High","t":85,"s":0.52},{"p":"J","g":"High","t":92,"s":0.5},{"p":"J","g":"High","t":100,"s":0.48},{"p":"J","g":"High","t":106,"s":0.46},{"p":"J","g":"High","t":137,"s":0.46},
{"p":"K","g":"Low","t":0,"s":1},{"p":"K","g":"Low","t":4,"s":0.98},{"p":"K","g":"Low","t":10,"s":0.96},{"p":"K","g":"Low","t":16,"s":0.94},{"p":"K","g":"Low","t":22,"s":0.92},{"p":"K","g":"Low","t":30,"s":0.9},{"p":"K","g":"Low","t":40,"s":0.89},{"p":"K","g":"Low","t":50,"s":0.88},{"p":"K","g":"Low","t":62,"s":0.87},{"p":"K","g":"Low","t":72,"s":0.85},{"p":"K","g":"Low","t":80,"s":0.83},{"p":"K","g":"Low","t":84,"s":0.81},{"p":"K","g":"Low","t":87,"s":0.79},{"p":"K","g":"Low","t":137,"s":0.79},
{"p":"K","g":"High","t":0,"s":1},{"p":"K","g":"High","t":4,"s":0.98},{"p":"K","g":"High","t":10,"s":0.94},{"p":"K","g":"High","t":16,"s":0.91},{"p":"K","g":"High","t":22,"s":0.88},{"p":"K","g":"High","t":28,"s":0.85},{"p":"K","g":"High","t":34,"s":0.83},{"p":"K","g":"High","t":40,"s":0.8},{"p":"K","g":"High","t":46,"s":0.77},{"p":"K","g":"High","t":50,"s":0.74},{"p":"K","g":"High","t":55,"s":0.7},{"p":"K","g":"High","t":60,"s":0.67},{"p":"K","g":"High","t":65,"s":0.63},{"p":"K","g":"High","t":118,"s":0.58},{"p":"K","g":"High","t":152,"s":0.58},
{"p":"L","g":"Low","t":0,"s":1},{"p":"L","g":"Low","t":3,"s":0.98},{"p":"L","g":"Low","t":7,"s":0.96},{"p":"L","g":"Low","t":12,"s":0.93},{"p":"L","g":"Low","t":18,"s":0.91},{"p":"L","g":"Low","t":24,"s":0.88},{"p":"L","g":"Low","t":30,"s":0.86},{"p":"L","g":"Low","t":36,"s":0.84},{"p":"L","g":"Low","t":42,"s":0.82},{"p":"L","g":"Low","t":50,"s":0.79},{"p":"L","g":"Low","t":56,"s":0.77},{"p":"L","g":"Low","t":62,"s":0.75},{"p":"L","g":"Low","t":68,"s":0.73},{"p":"L","g":"Low","t":74,"s":0.71},{"p":"L","g":"Low","t":80,"s":0.68},{"p":"L","g":"Low","t":85,"s":0.64},{"p":"L","g":"Low","t":88,"s":0.6},{"p":"L","g":"Low","t":92,"s":0.51},{"p":"L","g":"Low","t":137,"s":0.51},
{"p":"L","g":"High","t":0,"s":1},{"p":"L","g":"High","t":3,"s":0.97},{"p":"L","g":"High","t":6,"s":0.94},{"p":"L","g":"High","t":10,"s":0.9},{"p":"L","g":"High","t":15,"s":0.87},{"p":"L","g":"High","t":20,"s":0.84},{"p":"L","g":"High","t":25,"s":0.81},{"p":"L","g":"High","t":30,"s":0.78},{"p":"L","g":"High","t":36,"s":0.75},{"p":"L","g":"High","t":42,"s":0.72},{"p":"L","g":"High","t":48,"s":0.68},{"p":"L","g":"High","t":52,"s":0.64},{"p":"L","g":"High","t":55,"s":0.6},{"p":"L","g":"High","t":58,"s":0.56},{"p":"L","g":"High","t":64,"s":0.54},{"p":"L","g":"High","t":70,"s":0.52},{"p":"L","g":"High","t":80,"s":0.5},{"p":"L","g":"High","t":118,"s":0.45},{"p":"L","g":"High","t":120,"s":0.39},{"p":"L","g":"High","t":152,"s":0.39},
{"p":"M","g":"Low","t":0,"s":1},{"p":"M","g":"Low","t":2,"s":0.97},{"p":"M","g":"Low","t":5,"s":0.94},{"p":"M","g":"Low","t":9,"s":0.91},{"p":"M","g":"Low","t":14,"s":0.89},{"p":"M","g":"Low","t":20,"s":0.87},{"p":"M","g":"Low","t":28,"s":0.85},{"p":"M","g":"Low","t":36,"s":0.83},{"p":"M","g":"Low","t":44,"s":0.81},{"p":"M","g":"Low","t":52,"s":0.79},{"p":"M","g":"Low","t":60,"s":0.76},{"p":"M","g":"Low","t":67,"s":0.73},{"p":"M","g":"Low","t":74,"s":0.7},{"p":"M","g":"Low","t":80,"s":0.67},{"p":"M","g":"Low","t":86,"s":0.64},{"p":"M","g":"Low","t":91,"s":0.6},{"p":"M","g":"Low","t":125,"s":0.45},{"p":"M","g":"Low","t":137,"s":0.45},
{"p":"M","g":"High","t":0,"s":1},{"p":"M","g":"High","t":1,"s":0.97},{"p":"M","g":"High","t":3,"s":0.93},{"p":"M","g":"High","t":5,"s":0.89},{"p":"M","g":"High","t":8,"s":0.85},{"p":"M","g":"High","t":11,"s":0.81},{"p":"M","g":"High","t":15,"s":0.77},{"p":"M","g":"High","t":20,"s":0.73},{"p":"M","g":"High","t":25,"s":0.7},{"p":"M","g":"High","t":30,"s":0.68},{"p":"M","g":"High","t":36,"s":0.66},{"p":"M","g":"High","t":42,"s":0.64},{"p":"M","g":"High","t":48,"s":0.62},{"p":"M","g":"High","t":55,"s":0.6},{"p":"M","g":"High","t":62,"s":0.58},{"p":"M","g":"High","t":68,"s":0.56},{"p":"M","g":"High","t":74,"s":0.54},{"p":"M","g":"High","t":82,"s":0.52},{"p":"M","g":"High","t":88,"s":0.5},{"p":"M","g":"High","t":93,"s":0.48},{"p":"M","g":"High","t":100,"s":0.46},{"p":"M","g":"High","t":137,"s":0.46},
{"p":"N","g":"Low","t":0,"s":1},{"p":"N","g":"Low","t":3,"s":0.98},{"p":"N","g":"Low","t":8,"s":0.96},{"p":"N","g":"Low","t":15,"s":0.94},{"p":"N","g":"Low","t":22,"s":0.92},{"p":"N","g":"Low","t":30,"s":0.9},{"p":"N","g":"Low","t":40,"s":0.88},{"p":"N","g":"Low","t":50,"s":0.87},{"p":"N","g":"Low","t":62,"s":0.86},{"p":"N","g":"Low","t":72,"s":0.84},{"p":"N","g":"Low","t":82,"s":0.82},{"p":"N","g":"Low","t":88,"s":0.8},{"p":"N","g":"Low","t":135,"s":0.8},
{"p":"N","g":"High","t":0,"s":1},{"p":"N","g":"High","t":3,"s":0.97},{"p":"N","g":"High","t":8,"s":0.93},{"p":"N","g":"High","t":14,"s":0.89},{"p":"N","g":"High","t":20,"s":0.86},{"p":"N","g":"High","t":26,"s":0.83},{"p":"N","g":"High","t":32,"s":0.8},{"p":"N","g":"High","t":38,"s":0.78},{"p":"N","g":"High","t":44,"s":0.75},{"p":"N","g":"High","t":50,"s":0.72},{"p":"N","g":"High","t":55,"s":0.69},{"p":"N","g":"High","t":60,"s":0.66},{"p":"N","g":"High","t":65,"s":0.62},{"p":"N","g":"High","t":70,"s":0.59},{"p":"N","g":"High","t":76,"s":0.56},{"p":"N","g":"High","t":118,"s":0.52},{"p":"N","g":"High","t":152,"s":0.52},
{"p":"O","g":"Low","t":0,"s":1},{"p":"O","g":"Low","t":3,"s":0.98},{"p":"O","g":"Low","t":8,"s":0.95},{"p":"O","g":"Low","t":14,"s":0.92},{"p":"O","g":"Low","t":20,"s":0.9},{"p":"O","g":"Low","t":28,"s":0.87},{"p":"O","g":"Low","t":36,"s":0.84},{"p":"O","g":"Low","t":44,"s":0.82},{"p":"O","g":"Low","t":50,"s":0.8},{"p":"O","g":"Low","t":56,"s":0.78},{"p":"O","g":"Low","t":62,"s":0.75},{"p":"O","g":"Low","t":68,"s":0.73},{"p":"O","g":"Low","t":74,"s":0.7},{"p":"O","g":"Low","t":80,"s":0.67},{"p":"O","g":"Low","t":85,"s":0.64},{"p":"O","g":"Low","t":89,"s":0.6},{"p":"O","g":"Low","t":92,"s":0.55},{"p":"O","g":"Low","t":135,"s":0.55},
{"p":"O","g":"High","t":0,"s":1},{"p":"O","g":"High","t":2,"s":0.97},{"p":"O","g":"High","t":5,"s":0.94},{"p":"O","g":"High","t":9,"s":0.9},{"p":"O","g":"High","t":13,"s":0.86},{"p":"O","g":"High","t":18,"s":0.82},{"p":"O","g":"High","t":23,"s":0.78},{"p":"O","g":"High","t":28,"s":0.74},{"p":"O","g":"High","t":34,"s":0.7},{"p":"O","g":"High","t":40,"s":0.66},{"p":"O","g":"High","t":46,"s":0.62},{"p":"O","g":"High","t":52,"s":0.59},{"p":"O","g":"High","t":57,"s":0.55},{"p":"O","g":"High","t":62,"s":0.52},{"p":"O","g":"High","t":68,"s":0.5},{"p":"O","g":"High","t":74,"s":0.47},{"p":"O","g":"High","t":80,"s":0.45},{"p":"O","g":"High","t":95,"s":0.44},{"p":"O","g":"High","t":108,"s":0.43},{"p":"O","g":"High","t":117,"s":0.4},{"p":"O","g":"High","t":120,"s":0.35},{"p":"O","g":"High","t":152,"s":0.35}
],
"cen":[
{"p":"A","g":"Low","t":28,"s":0.86},{"p":"A","g":"Low","t":45,"s":0.82},{"p":"A","g":"Low","t":58,"s":0.78},{"p":"A","g":"Low","t":72,"s":0.73},{"p":"A","g":"Low","t":79,"s":0.7},{"p":"A","g":"Low","t":85,"s":0.67},{"p":"A","g":"Low","t":96,"s":0.59},{"p":"A","g":"Low","t":100,"s":0.59},{"p":"A","g":"Low","t":104,"s":0.59},{"p":"A","g":"Low","t":108,"s":0.59},{"p":"A","g":"Low","t":112,"s":0.59},{"p":"A","g":"Low","t":116,"s":0.59},{"p":"A","g":"Low","t":120,"s":0.59},{"p":"A","g":"Low","t":128,"s":0.44},{"p":"A","g":"Low","t":132,"s":0.44},{"p":"A","g":"Low","t":136,"s":0.44},
{"p":"A","g":"High","t":52,"s":0.61},{"p":"A","g":"High","t":65,"s":0.58},{"p":"A","g":"High","t":77,"s":0.54},{"p":"A","g":"High","t":85,"s":0.53},{"p":"A","g":"High","t":103,"s":0.44},{"p":"A","g":"High","t":110,"s":0.44},{"p":"A","g":"High","t":117,"s":0.44},{"p":"A","g":"High","t":124,"s":0.44},{"p":"A","g":"High","t":130,"s":0.44},
{"p":"B","g":"Low","t":35,"s":0.9},{"p":"B","g":"Low","t":45,"s":0.88},{"p":"B","g":"Low","t":55,"s":0.87},{"p":"B","g":"Low","t":66,"s":0.86},{"p":"B","g":"Low","t":76,"s":0.84},{"p":"B","g":"Low","t":85,"s":0.82},{"p":"B","g":"Low","t":92,"s":0.79},{"p":"B","g":"Low","t":97,"s":0.79},{"p":"B","g":"Low","t":102,"s":0.79},{"p":"B","g":"Low","t":108,"s":0.79},{"p":"B","g":"Low","t":113,"s":0.79},{"p":"B","g":"Low","t":118,"s":0.79},{"p":"B","g":"Low","t":125,"s":0.79},{"p":"B","g":"Low","t":130,"s":0.79},{"p":"B","g":"Low","t":135,"s":0.79},
{"p":"B","g":"High","t":57,"s":0.7},{"p":"B","g":"High","t":80,"s":0.57},{"p":"B","g":"High","t":85,"s":0.57},{"p":"B","g":"High","t":90,"s":0.57},{"p":"B","g":"High","t":95,"s":0.57},{"p":"B","g":"High","t":100,"s":0.57},{"p":"B","g":"High","t":105,"s":0.57},{"p":"B","g":"High","t":110,"s":0.57},{"p":"B","g":"High","t":114,"s":0.57},{"p":"B","g":"High","t":122,"s":0.52},{"p":"B","g":"High","t":128,"s":0.52},{"p":"B","g":"High","t":135,"s":0.52},{"p":"B","g":"High","t":142,"s":0.52},{"p":"B","g":"High","t":152,"s":0.52},
{"p":"C","g":"Low","t":40,"s":0.83},{"p":"C","g":"Low","t":59,"s":0.77},{"p":"C","g":"Low","t":71,"s":0.72},{"p":"C","g":"Low","t":78,"s":0.69},{"p":"C","g":"Low","t":83,"s":0.66},{"p":"C","g":"Low","t":96,"s":0.55},{"p":"C","g":"Low","t":100,"s":0.55},{"p":"C","g":"Low","t":104,"s":0.55},{"p":"C","g":"Low","t":110,"s":0.55},{"p":"C","g":"Low","t":114,"s":0.55},{"p":"C","g":"Low","t":118,"s":0.55},{"p":"C","g":"Low","t":124,"s":0.55},{"p":"C","g":"Low","t":130,"s":0.55},{"p":"C","g":"Low","t":135,"s":0.55},
{"p":"C","g":"High","t":60,"s":0.55},{"p":"C","g":"High","t":72,"s":0.5},{"p":"C","g":"High","t":85,"s":0.45},{"p":"C","g":"High","t":90,"s":0.45},{"p":"C","g":"High","t":100,"s":0.44},{"p":"C","g":"High","t":112,"s":0.43},{"p":"C","g":"High","t":125,"s":0.35},{"p":"C","g":"High","t":129,"s":0.35},{"p":"C","g":"High","t":133,"s":0.35},{"p":"C","g":"High","t":152,"s":0.35},
{"p":"D","g":"Low","t":25,"s":0.86},{"p":"D","g":"Low","t":35,"s":0.84},{"p":"D","g":"Low","t":45,"s":0.83},{"p":"D","g":"Low","t":60,"s":0.79},{"p":"D","g":"Low","t":67,"s":0.77},{"p":"D","g":"Low","t":74,"s":0.75},{"p":"D","g":"Low","t":86,"s":0.64},{"p":"D","g":"Low","t":92,"s":0.64},{"p":"D","g":"Low","t":98,"s":0.64},{"p":"D","g":"Low","t":105,"s":0.64},{"p":"D","g":"Low","t":110,"s":0.64},{"p":"D","g":"Low","t":117,"s":0.64},{"p":"D","g":"Low","t":125,"s":0.64},{"p":"D","g":"Low","t":137,"s":0.64},
{"p":"D","g":"High","t":35,"s":0.66},{"p":"D","g":"High","t":44,"s":0.65},{"p":"D","g":"High","t":55,"s":0.6},{"p":"D","g":"High","t":72,"s":0.51},{"p":"D","g":"High","t":78,"s":0.51},{"p":"D","g":"High","t":85,"s":0.51},{"p":"D","g":"High","t":92,"s":0.51},{"p":"D","g":"High","t":100,"s":0.51},{"p":"D","g":"High","t":108,"s":0.51},{"p":"D","g":"High","t":115,"s":0.51},{"p":"D","g":"High","t":120,"s":0.51},{"p":"D","g":"High","t":125,"s":0.51},
{"p":"E","g":"Low","t":28,"s":0.91},{"p":"E","g":"Low","t":40,"s":0.9},{"p":"E","g":"Low","t":50,"s":0.89},{"p":"E","g":"Low","t":55,"s":0.89},{"p":"E","g":"Low","t":65,"s":0.88},{"p":"E","g":"Low","t":70,"s":0.88},{"p":"E","g":"Low","t":92,"s":0.78},{"p":"E","g":"Low","t":100,"s":0.78},{"p":"E","g":"Low","t":108,"s":0.78},{"p":"E","g":"Low","t":118,"s":0.78},{"p":"E","g":"Low","t":125,"s":0.78},{"p":"E","g":"Low","t":135,"s":0.78},{"p":"E","g":"Low","t":145,"s":0.78},{"p":"E","g":"Low","t":152,"s":0.78},
{"p":"E","g":"High","t":35,"s":0.79},{"p":"E","g":"High","t":48,"s":0.76},{"p":"E","g":"High","t":65,"s":0.6},{"p":"E","g":"High","t":80,"s":0.52},{"p":"E","g":"High","t":85,"s":0.52},{"p":"E","g":"High","t":90,"s":0.52},{"p":"E","g":"High","t":95,"s":0.52},{"p":"E","g":"High","t":100,"s":0.52},{"p":"E","g":"High","t":105,"s":0.52},{"p":"E","g":"High","t":110,"s":0.52},{"p":"E","g":"High","t":115,"s":0.52},{"p":"E","g":"High","t":120,"s":0.52},{"p":"E","g":"High","t":125,"s":0.52},
{"p":"F","g":"Low","t":36,"s":0.86},{"p":"F","g":"Low","t":58,"s":0.78},{"p":"F","g":"Low","t":62,"s":0.78},{"p":"F","g":"Low","t":66,"s":0.78},{"p":"F","g":"Low","t":72,"s":0.77},{"p":"F","g":"Low","t":95,"s":0.48},{"p":"F","g":"Low","t":102,"s":0.48},{"p":"F","g":"Low","t":110,"s":0.48},{"p":"F","g":"Low","t":118,"s":0.48},{"p":"F","g":"Low","t":125,"s":0.48},{"p":"F","g":"Low","t":132,"s":0.48},{"p":"F","g":"Low","t":140,"s":0.48},{"p":"F","g":"Low","t":152,"s":0.48},
{"p":"F","g":"High","t":47,"s":0.68},{"p":"F","g":"High","t":60,"s":0.55},{"p":"F","g":"High","t":78,"s":0.46},{"p":"F","g":"High","t":82,"s":0.46},{"p":"F","g":"High","t":88,"s":0.46},{"p":"F","g":"High","t":95,"s":0.46},{"p":"F","g":"High","t":100,"s":0.46},{"p":"F","g":"High","t":108,"s":0.46},{"p":"F","g":"High","t":115,"s":0.46},{"p":"F","g":"High","t":123,"s":0.29},
{"p":"G","g":"Low","t":20,"s":0.89},{"p":"G","g":"Low","t":28,"s":0.88},{"p":"G","g":"Low","t":45,"s":0.85},{"p":"G","g":"Low","t":55,"s":0.83},{"p":"G","g":"Low","t":62,"s":0.81},{"p":"G","g":"Low","t":69,"s":0.79},{"p":"G","g":"Low","t":84,"s":0.66},{"p":"G","g":"Low","t":95,"s":0.6},{"p":"G","g":"Low","t":100,"s":0.6},{"p":"G","g":"Low","t":108,"s":0.6},{"p":"G","g":"Low","t":115,"s":0.6},{"p":"G","g":"Low","t":125,"s":0.6},{"p":"G","g":"Low","t":132,"s":0.6},{"p":"G","g":"Low","t":137,"s":0.6},
{"p":"G","g":"High","t":28,"s":0.68},{"p":"G","g":"High","t":44,"s":0.64},{"p":"G","g":"High","t":52,"s":0.61},{"p":"G","g":"High","t":75,"s":0.53},{"p":"G","g":"High","t":80,"s":0.53},{"p":"G","g":"High","t":95,"s":0.47},{"p":"G","g":"High","t":110,"s":0.41},{"p":"G","g":"High","t":115,"s":0.41},{"p":"G","g":"High","t":120,"s":0.41},{"p":"G","g":"High","t":125,"s":0.41},
{"p":"H","g":"Low","t":40,"s":0.89},{"p":"H","g":"Low","t":45,"s":0.89},{"p":"H","g":"Low","t":50,"s":0.89},{"p":"H","g":"Low","t":60,"s":0.88},{"p":"H","g":"Low","t":65,"s":0.88},{"p":"H","g":"Low","t":70,"s":0.88},{"p":"H","g":"Low","t":90,"s":0.79},{"p":"H","g":"Low","t":95,"s":0.79},{"p":"H","g":"Low","t":100,"s":0.79},{"p":"H","g":"Low","t":106,"s":0.79},{"p":"H","g":"Low","t":112,"s":0.79},{"p":"H","g":"Low","t":118,"s":0.79},{"p":"H","g":"Low","t":125,"s":0.79},{"p":"H","g":"Low","t":132,"s":0.79},{"p":"H","g":"Low","t":137,"s":0.79},
{"p":"H","g":"High","t":36,"s":0.77},{"p":"H","g":"High","t":52,"s":0.71},{"p":"H","g":"High","t":78,"s":0.58},{"p":"H","g":"High","t":85,"s":0.58},{"p":"H","g":"High","t":90,"s":0.58},{"p":"H","g":"High","t":95,"s":0.58},{"p":"H","g":"High","t":100,"s":0.58},{"p":"H","g":"High","t":105,"s":0.58},{"p":"H","g":"High","t":110,"s":0.58},{"p":"H","g":"High","t":122,"s":0.5},{"p":"H","g":"High","t":130,"s":0.5},{"p":"H","g":"High","t":140,"s":0.5},{"p":"H","g":"High","t":152,"s":0.5},
{"p":"I","g":"Low","t":42,"s":0.84},{"p":"I","g":"Low","t":65,"s":0.75},{"p":"I","g":"Low","t":70,"s":0.75},{"p":"I","g":"Low","t":95,"s":0.52},{"p":"I","g":"Low","t":100,"s":0.52},{"p":"I","g":"Low","t":105,"s":0.52},{"p":"I","g":"Low","t":110,"s":0.52},{"p":"I","g":"Low","t":115,"s":0.52},{"p":"I","g":"Low","t":122,"s":0.52},{"p":"I","g":"Low","t":130,"s":0.52},{"p":"I","g":"Low","t":137,"s":0.52},
{"p":"I","g":"High","t":65,"s":0.52},{"p":"I","g":"High","t":80,"s":0.46},{"p":"I","g":"High","t":85,"s":0.46},{"p":"I","g":"High","t":90,"s":0.46},{"p":"I","g":"High","t":95,"s":0.46},{"p":"I","g":"High","t":100,"s":0.46},{"p":"I","g":"High","t":106,"s":0.46},{"p":"I","g":"High","t":112,"s":0.46},{"p":"I","g":"High","t":125,"s":0.31},{"p":"I","g":"High","t":152,"s":0.31},
{"p":"J","g":"Low","t":36,"s":0.83},{"p":"J","g":"Low","t":44,"s":0.81},{"p":"J","g":"Low","t":52,"s":0.79},{"p":"J","g":"Low","t":66,"s":0.74},{"p":"J","g":"Low","t":95,"s":0.6},{"p":"J","g":"Low","t":100,"s":0.6},{"p":"J","g":"Low","t":104,"s":0.6},{"p":"J","g":"Low","t":110,"s":0.6},{"p":"J","g":"Low","t":115,"s":0.6},{"p":"J","g":"Low","t":120,"s":0.6},{"p":"J","g":"Low","t":130,"s":0.44},{"p":"J","g":"Low","t":137,"s":0.44},
{"p":"J","g":"High","t":28,"s":0.72},{"p":"J","g":"High","t":52,"s":0.65},{"p":"J","g":"High","t":60,"s":0.63},{"p":"J","g":"High","t":70,"s":0.6},{"p":"J","g":"High","t":95,"s":0.5},{"p":"J","g":"High","t":110,"s":0.46},{"p":"J","g":"High","t":115,"s":0.46},{"p":"J","g":"High","t":120,"s":0.46},{"p":"J","g":"High","t":125,"s":0.46},{"p":"J","g":"High","t":130,"s":0.46},{"p":"J","g":"High","t":137,"s":0.46},
{"p":"K","g":"Low","t":26,"s":0.92},{"p":"K","g":"Low","t":35,"s":0.9},{"p":"K","g":"Low","t":45,"s":0.89},{"p":"K","g":"Low","t":55,"s":0.88},{"p":"K","g":"Low","t":58,"s":0.88},{"p":"K","g":"Low","t":68,"s":0.87},{"p":"K","g":"Low","t":76,"s":0.85},{"p":"K","g":"Low","t":92,"s":0.79},{"p":"K","g":"Low","t":97,"s":0.79},{"p":"K","g":"Low","t":102,"s":0.79},{"p":"K","g":"Low","t":108,"s":0.79},{"p":"K","g":"Low","t":113,"s":0.79},{"p":"K","g":"Low","t":120,"s":0.79},{"p":"K","g":"Low","t":127,"s":0.79},{"p":"K","g":"Low","t":133,"s":0.79},{"p":"K","g":"Low","t":137,"s":0.79},
{"p":"K","g":"High","t":38,"s":0.83},{"p":"K","g":"High","t":70,"s":0.63},{"p":"K","g":"High","t":75,"s":0.63},{"p":"K","g":"High","t":80,"s":0.63},{"p":"K","g":"High","t":88,"s":0.63},{"p":"K","g":"High","t":95,"s":0.63},{"p":"K","g":"High","t":100,"s":0.63},{"p":"K","g":"High","t":105,"s":0.63},{"p":"K","g":"High","t":110,"s":0.63},{"p":"K","g":"High","t":115,"s":0.63},{"p":"K","g":"High","t":122,"s":0.58},{"p":"K","g":"High","t":130,"s":0.58},{"p":"K","g":"High","t":140,"s":0.58},{"p":"K","g":"High","t":152,"s":0.58},
{"p":"L","g":"Low","t":46,"s":0.82},{"p":"L","g":"Low","t":65,"s":0.75},{"p":"L","g":"Low","t":78,"s":0.71},{"p":"L","g":"Low","t":95,"s":0.51},{"p":"L","g":"Low","t":100,"s":0.51},{"p":"L","g":"Low","t":105,"s":0.51},{"p":"L","g":"Low","t":110,"s":0.51},{"p":"L","g":"Low","t":116,"s":0.51},{"p":"L","g":"Low","t":122,"s":0.51},{"p":"L","g":"Low","t":130,"s":0.51},{"p":"L","g":"Low","t":137,"s":0.51},
{"p":"L","g":"High","t":60,"s":0.56},{"p":"L","g":"High","t":75,"s":0.52},{"p":"L","g":"High","t":85,"s":0.5},{"p":"L","g":"High","t":90,"s":0.5},{"p":"L","g":"High","t":95,"s":0.5},{"p":"L","g":"High","t":100,"s":0.5},{"p":"L","g":"High","t":105,"s":0.5},{"p":"L","g":"High","t":110,"s":0.5},{"p":"L","g":"High","t":130,"s":0.39},{"p":"L","g":"High","t":140,"s":0.39},{"p":"L","g":"High","t":152,"s":0.39},
{"p":"M","g":"Low","t":32,"s":0.85},{"p":"M","g":"Low","t":48,"s":0.81},{"p":"M","g":"Low","t":64,"s":0.76},{"p":"M","g":"Low","t":78,"s":0.7},{"p":"M","g":"Low","t":96,"s":0.6},{"p":"M","g":"Low","t":100,"s":0.6},{"p":"M","g":"Low","t":105,"s":0.6},{"p":"M","g":"Low","t":110,"s":0.6},{"p":"M","g":"Low","t":115,"s":0.6},{"p":"M","g":"Low","t":120,"s":0.6},{"p":"M","g":"Low","t":130,"s":0.45},{"p":"M","g":"Low","t":137,"s":0.45},
{"p":"M","g":"High","t":52,"s":0.62},{"p":"M","g":"High","t":65,"s":0.58},{"p":"M","g":"High","t":78,"s":0.54},{"p":"M","g":"High","t":85,"s":0.52},{"p":"M","g":"High","t":105,"s":0.46},{"p":"M","g":"High","t":112,"s":0.46},{"p":"M","g":"High","t":120,"s":0.46},{"p":"M","g":"High","t":128,"s":0.46},{"p":"M","g":"High","t":135,"s":0.46},
{"p":"N","g":"Low","t":35,"s":0.9},{"p":"N","g":"Low","t":45,"s":0.88},{"p":"N","g":"Low","t":55,"s":0.87},{"p":"N","g":"Low","t":66,"s":0.86},{"p":"N","g":"Low","t":76,"s":0.84},{"p":"N","g":"Low","t":85,"s":0.82},{"p":"N","g":"Low","t":92,"s":0.8},{"p":"N","g":"Low","t":97,"s":0.8},{"p":"N","g":"Low","t":102,"s":0.8},{"p":"N","g":"Low","t":108,"s":0.8},{"p":"N","g":"Low","t":113,"s":0.8},{"p":"N","g":"Low","t":118,"s":0.8},{"p":"N","g":"Low","t":125,"s":0.8},{"p":"N","g":"Low","t":130,"s":0.8},{"p":"N","g":"Low","t":135,"s":0.8},
{"p":"N","g":"High","t":57,"s":0.69},{"p":"N","g":"High","t":80,"s":0.56},{"p":"N","g":"High","t":85,"s":0.56},{"p":"N","g":"High","t":90,"s":0.56},{"p":"N","g":"High","t":95,"s":0.56},{"p":"N","g":"High","t":100,"s":0.56},{"p":"N","g":"High","t":105,"s":0.56},{"p":"N","g":"High","t":110,"s":0.56},{"p":"N","g":"High","t":122,"s":0.52},{"p":"N","g":"High","t":130,"s":0.52},{"p":"N","g":"High","t":140,"s":0.52},{"p":"N","g":"High","t":152,"s":0.52},
{"p":"O","g":"Low","t":40,"s":0.84},{"p":"O","g":"Low","t":59,"s":0.78},{"p":"O","g":"Low","t":71,"s":0.73},{"p":"O","g":"Low","t":78,"s":0.7},{"p":"O","g":"Low","t":96,"s":0.55},{"p":"O","g":"Low","t":100,"s":0.55},{"p":"O","g":"Low","t":104,"s":0.55},{"p":"O","g":"Low","t":110,"s":0.55},{"p":"O","g":"Low","t":115,"s":0.55},{"p":"O","g":"Low","t":120,"s":0.55},{"p":"O","g":"Low","t":125,"s":0.55},{"p":"O","g":"Low","t":130,"s":0.55},{"p":"O","g":"Low","t":135,"s":0.55},
{"p":"O","g":"High","t":60,"s":0.55},{"p":"O","g":"High","t":72,"s":0.5},{"p":"O","g":"High","t":85,"s":0.45},{"p":"O","g":"High","t":100,"s":0.44},{"p":"O","g":"High","t":112,"s":0.43},{"p":"O","g":"High","t":125,"s":0.35},{"p":"O","g":"High","t":130,"s":0.35},{"p":"O","g":"High","t":152,"s":0.35}
]
},
"config":{
"font":"Liberation Sans",
"view":{"stroke":null},
"axis":{"grid":false,"labelOverlap":false,"domainColor":"#000","domainWidth":0.7,"tickColor":"#000","tickWidth":0.7,"tickSize":2.5,"labelFontSize":6.5,"labelColor":"#333","labelPadding":1.2,"titleFontSize":8,"titleFontWeight":"normal","titleColor":"#000"},
"axisX":{"titlePadding":1.5,"titleFontSize":7.5},
"axisY":{"titlePadding":2},
"legend":{"orient":"top-right","offset":0,"padding":0,"titleFontSize":5.5,"titleFontWeight":"normal","titleColor":"#333","labelFontSize":6,"labelColor":"#333","symbolSize":30,"symbolStrokeWidth":1,"rowPadding":0.5,"titlePadding":1.5,"labelOffset":3},
"title":{"fontSize":7.2,"fontWeight":"normal","color":"#000","offset":2},
"line":{"interpolate":"step-after","strokeWidth":1},
"text":{"fontSize":5.5,"align":"left","baseline":"middle","color":"#222","lineHeight":7}
}
}
